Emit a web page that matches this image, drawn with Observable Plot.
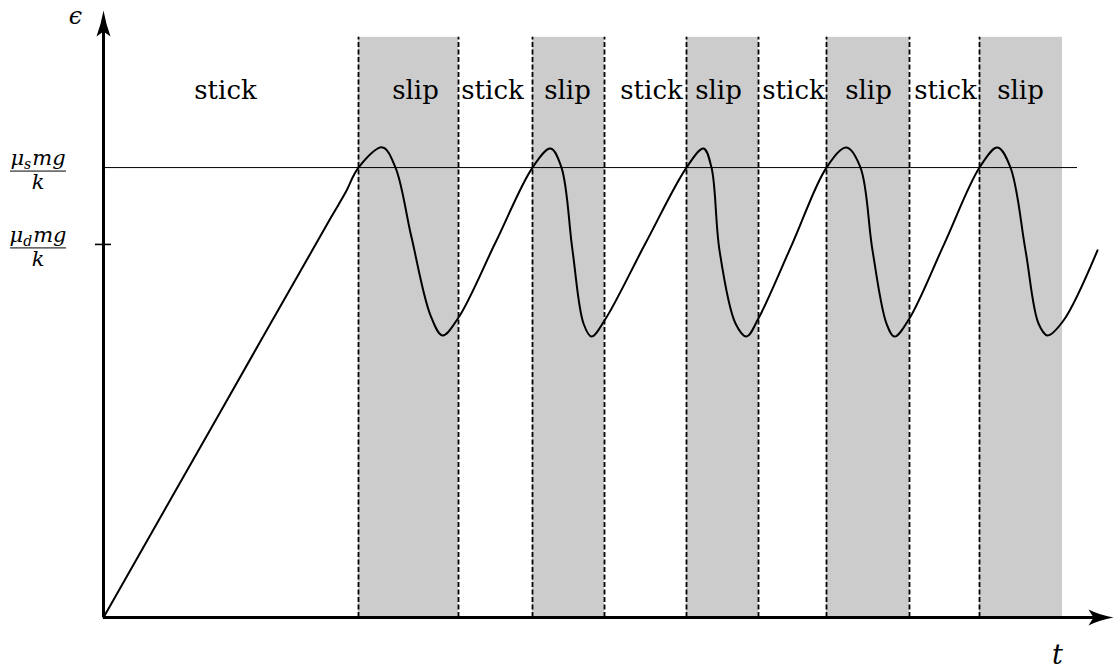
<!DOCTYPE html>
<html>
<head>
<meta charset="utf-8">
<script src="https://cdn.jsdelivr.net/npm/d3@7"></script>
<script src="https://cdn.jsdelivr.net/npm/@observablehq/plot@0.6"></script>
<style>
  body { margin: 0; background: #fff; }
  #chart svg { overflow: visible; }
  #chart svg text { font-family: "DejaVu Serif", serif !important; }
</style>
</head>
<body>
<div id="chart"></div>
<script>
// Stick–slip oscillation: spring strain ε against time t.
// Strain thresholds (in units of μ_d·mg/k).
const muS = 1.206;
const muD = 1.0;

// Slip phases (shaded): start and end times.
const slipStart = [2.55, 4.29, 5.83, 7.23, 8.76];
const slipEnd   = [3.55, 5.01, 6.55, 8.06, 9.59];
const bandTop = 1.555;

// Phase labels along the top.
const phaseLabels = ["stick", "slip", "stick", "slip", "stick", "slip", "stick", "slip", "stick", "slip"];
const labelT = [1.22, 3.12, 3.89, 4.64, 5.48, 6.15, 6.90, 7.65, 8.42, 9.17];
const labelEps = 1.413;

// Strain curve samples: initial loading, then five slip cycles.
const curveT = [
  0, 1.13, 2.27, 2.42,
  2.55, 2.79, 2.92, 3.08, 3.27, 3.39, 3.55, 3.92,
  4.29, 4.47, 4.58, 4.69, 4.80, 4.88, 5.01, 5.42,
  5.83, 6.00, 6.08, 6.16, 6.32, 6.43, 6.55, 6.89,
  7.23, 7.43, 7.57, 7.69, 7.83, 7.91, 8.06, 8.41,
  8.76, 8.94, 9.07, 9.22, 9.35, 9.44, 9.60, 9.94
];
const curveEps = [
  0, 0.533, 1.070, 1.139,
  1.206, 1.260, 1.206, 1.019, 0.810, 0.756, 0.804, 1.005,
  1.206, 1.257, 1.206, 0.984, 0.788, 0.753, 0.796, 1.003,
  1.206, 1.257, 1.206, 0.984, 0.788, 0.753, 0.802, 1.003,
  1.206, 1.260, 1.206, 0.984, 0.788, 0.753, 0.802, 1.003,
  1.206, 1.260, 1.206, 0.984, 0.788, 0.756, 0.796, 0.984
];

// Axis extents and the reference line end.
const tMax = 10.10;
const epsMax = 1.627;
const refLineEnd = 9.74;

const curve = curveT.map((t, i) => ({t, eps: curveEps[i]}));
const bands = slipStart.map((a, i) => ({a, b: slipEnd[i]}));
const edges = slipStart.concat(slipEnd.slice(0, -1));
const labels = phaseLabels.map((s, i) => ({t: labelT[i], s}));

// Filled stealth arrowheads, tip at the symbol origin.
const arrowUp = {
  draw(ctx) {
    ctx.moveTo(0, 0);
    ctx.quadraticCurveTo(2.5, 14, 7, 26);
    ctx.lineTo(0, 21);
    ctx.lineTo(-7, 26);
    ctx.quadraticCurveTo(-2.5, 14, 0, 0);
    ctx.closePath();
  }
};
const arrowRight = {
  draw(ctx) {
    ctx.moveTo(0, 0);
    ctx.quadraticCurveTo(-14, 2.5, -25, 8);
    ctx.lineTo(-20, 0);
    ctx.lineTo(-25, -8);
    ctx.quadraticCurveTo(-14, -2.5, 0, 0);
    ctx.closePath();
  }
};

const serif = "DejaVu Serif";

const chart = Plot.plot({
  width: 1115,
  height: 670,
  marginLeft: 103,
  marginRight: 2,
  marginTop: 10,
  marginBottom: 53,
  style: {background: "#fff", overflow: "visible"},
  x: {domain: [0, tMax], axis: null},
  y: {domain: [0, epsMax], axis: null},
  marks: [
    Plot.rect(bands, {x1: "a", x2: "b", y1: 0, y2: bandTop, fill: "#cccccc"}),
    Plot.ruleX(edges, {y1: 0, y2: bandTop, stroke: "#000", strokeWidth: 1.8, strokeDasharray: "5,2.5"}),
    Plot.ruleY([muS], {x1: 0, x2: refLineEnd, stroke: "#000", strokeWidth: 1}),
    Plot.line(curve, {x: "t", y: "eps", curve: "catmull-rom", stroke: "#000", strokeWidth: 2}),
    Plot.text(labels, {x: "t", y: () => labelEps, text: "s", fontSize: 26, fontFamily: serif, fill: "#000"}),
    // axes
    Plot.ruleX([0], {y1: 0, y2: epsMax - 0.04, stroke: "#000", strokeWidth: 3}),
    Plot.ruleY([0], {x1: 0, x2: tMax - 0.15, stroke: "#000", strokeWidth: 3}),
    Plot.dot([0], {x: 0, y: epsMax, symbol: arrowUp, fill: "#000", stroke: "none"}),
    Plot.dot([0], {x: tMax, y: 0, symbol: arrowRight, fill: "#000", stroke: "none"}),
    // μ_d tick
    Plot.ruleY([muD], {x1: -0.08, x2: 0.08, stroke: "#000", strokeWidth: 1.6}),
    // axis names
    Plot.text(["ϵ"], {x: 0, y: epsMax, dx: -28, dy: 6, fontSize: 24, fontStyle: "italic", fontFamily: serif, fill: "#000"}),
    Plot.text(["t"], {x: tMax, y: 0, dx: -56, dy: 38, fontSize: 27, fontStyle: "italic", fontFamily: serif, fill: "#000"})
  ]
});

// Fraction tick labels μ·mg/k beside the strain axis.
const yScale = chart.scale("y");
const svg = d3.select(chart);
const fractions = [{v: muS, sub: "s"}, {v: muD, sub: "d"}];
const cx = 38;
for (const f of fractions) {
  const yb = yScale.apply(f.v) + 4;
  const g = svg.append("g")
    .attr("font-style", "italic")
    .attr("fill", "#000");
  const num = g.append("text")
    .attr("x", cx)
    .attr("y", yb - 6)
    .attr("text-anchor", "middle")
    .attr("font-size", 21);
  num.append("tspan").text("μ");
  num.append("tspan").attr("font-size", 14).attr("dy", 4).text(f.sub);
  num.append("tspan").attr("dy", -4).attr("dx", 1).text("mg");
  g.append("line")
    .attr("x1", 10).attr("x2", 66)
    .attr("y1", yb).attr("y2", yb)
    .attr("stroke", "#000").attr("stroke-width", 1);
  g.append("text")
    .attr("x", cx)
    .attr("y", yb + 18)
    .attr("text-anchor", "middle")
    .attr("font-size", 21)
    .text("k");
}

document.getElementById("chart").appendChild(chart);
</script>
</body>
</html>
